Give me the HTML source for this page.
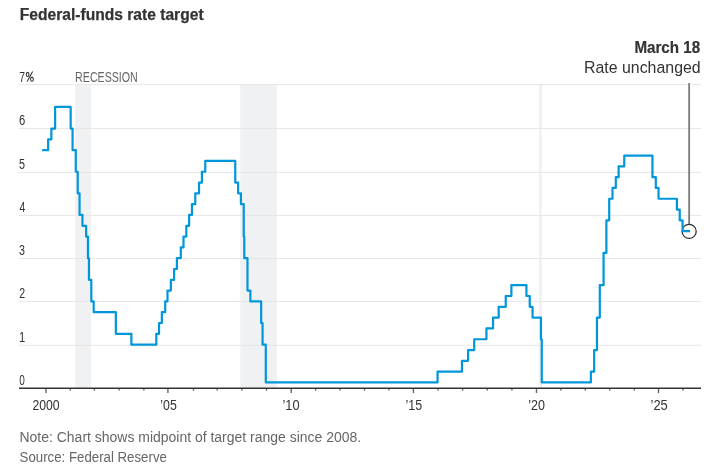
<!DOCTYPE html>
<html><head><meta charset="utf-8"><style>
html,body{margin:0;padding:0;background:#fff;}
svg{display:block;will-change:transform;}
text{font-family:"Liberation Sans",sans-serif;}
.g{stroke:#e6e6e6;stroke-width:1;}
.r{fill:#f0f1f3;}
.tk{stroke:#666;stroke-width:1.4;}
</style></head><body>
<svg width="713" height="467" viewBox="0 0 713 467">
<rect x="75.10" y="84.60" width="15.88" height="303.70" class="r"/><rect x="240.24" y="84.60" width="36.78" height="303.70" class="r"/><rect x="538.88" y="84.60" width="3.02" height="303.70" class="r"/>
<line x1="19" x2="701" y1="84.60" y2="84.60" class="g"/><line x1="19" x2="701" y1="128.60" y2="128.60" class="g"/><line x1="19" x2="701" y1="172.40" y2="172.40" class="g"/><line x1="19" x2="701" y1="215.40" y2="215.40" class="g"/><line x1="19" x2="701" y1="258.40" y2="258.40" class="g"/><line x1="19" x2="701" y1="301.40" y2="301.40" class="g"/><line x1="19" x2="701" y1="345.30" y2="345.30" class="g"/>
<line x1="46.00" x2="46.00" y1="388.3" y2="393" class="tk"/><line x1="70.30" x2="70.30" y1="388.3" y2="390.6" class="tk"/><line x1="94.40" x2="94.40" y1="388.3" y2="390.6" class="tk"/><line x1="119.14" x2="119.14" y1="388.3" y2="390.6" class="tk"/><line x1="143.85" x2="143.85" y1="388.3" y2="390.6" class="tk"/><line x1="167.90" x2="167.90" y1="388.3" y2="393" class="tk"/><line x1="193.45" x2="193.45" y1="388.3" y2="390.6" class="tk"/><line x1="217.22" x2="217.22" y1="388.3" y2="390.6" class="tk"/><line x1="241.88" x2="241.88" y1="388.3" y2="390.6" class="tk"/><line x1="266.54" x2="266.54" y1="388.3" y2="390.6" class="tk"/><line x1="291.20" x2="291.20" y1="388.3" y2="393" class="tk"/><line x1="315.64" x2="315.64" y1="388.3" y2="390.6" class="tk"/><line x1="340.08" x2="340.08" y1="388.3" y2="390.6" class="tk"/><line x1="364.52" x2="364.52" y1="388.3" y2="390.6" class="tk"/><line x1="388.96" x2="388.96" y1="388.3" y2="390.6" class="tk"/><line x1="413.40" x2="413.40" y1="388.3" y2="393" class="tk"/><line x1="438.02" x2="438.02" y1="388.3" y2="390.6" class="tk"/><line x1="462.64" x2="462.64" y1="388.3" y2="390.6" class="tk"/><line x1="487.26" x2="487.26" y1="388.3" y2="390.6" class="tk"/><line x1="511.88" x2="511.88" y1="388.3" y2="390.6" class="tk"/><line x1="536.50" x2="536.50" y1="388.3" y2="393" class="tk"/><line x1="560.90" x2="560.90" y1="388.3" y2="390.6" class="tk"/><line x1="585.30" x2="585.30" y1="388.3" y2="390.6" class="tk"/><line x1="609.70" x2="609.70" y1="388.3" y2="390.6" class="tk"/><line x1="634.30" x2="634.30" y1="388.3" y2="390.6" class="tk"/><line x1="658.50" x2="658.50" y1="388.3" y2="393" class="tk"/><line x1="682.90" x2="682.90" y1="388.3" y2="390.6" class="tk"/>
<line x1="19" x2="701" y1="388.3" y2="388.3" stroke="#333" stroke-width="1.5"/>
<rect x="687.15" y="83" width="4" height="3" fill="#fff"/>
<line x1="689.15" x2="689.15" y1="83" y2="224.18" stroke="#7a7a7a" stroke-width="1.8"/>
<circle cx="689.15" cy="231.38" r="7.05" fill="none" stroke="#333" stroke-width="1.3"/>
<path d="M42.1,150.14H48.15V139.34H51.36V128.53H55.12V106.92H70.67V128.53H72.56V150.14H75.78V171.75H77.73V193.36H79.55V214.97H82.44V225.78H86.14V236.58H87.95V258.19H88.96V279.80H91.31V301.41H93.67V312.22H115.85V333.83H131.39V344.63H156.30V333.83H159.04V323.02H161.86V312.22H165.21V301.41H167.49V290.61H170.85V279.80H174.08V269.00H176.90V258.19H180.80V247.39H183.49V236.58H186.32V225.78H189.14V214.97H191.96V204.17H195.26V193.36H199.02V182.56H201.91V171.75H205.27V160.95H235.26V182.56H238.15V193.36H240.91V204.17H243.73V236.58H244.26V258.19H247.48V290.61H250.37V301.41H261.16V323.02H262.57V344.63H265.79V382.45H437.56V371.64H461.97V360.84H468.09V350.03H474.21V339.23H486.44V328.42H493.03V317.62H498.68V306.81H505.74V296.01H511.39V285.20H526.45V296.01H529.74V306.81H532.56V317.62H540.96V339.23H541.76V382.45H590.86V371.64H594.15V350.03H596.97V317.62H599.80V285.20H603.56V252.79H606.39V220.37H609.21V198.76H612.50V187.96H615.80V177.15H618.62V166.35H624.27V155.54H652.46V177.15H655.81V187.96H658.56V198.76H676.91V209.57H679.74V220.37H682.56V231.18H690.05" fill="none" stroke="#0096db" stroke-width="2.2" stroke-linejoin="round" stroke-linecap="butt"/>
<text x="19.80" y="19.60" font-size="16" font-weight="bold" fill="#333" textLength="183.80" lengthAdjust="spacingAndGlyphs" stroke="#333" stroke-width="0.25">Federal-funds rate target</text>
<text x="634.40" y="52.80" font-size="16" font-weight="bold" fill="#333" textLength="65.69" lengthAdjust="spacingAndGlyphs" stroke="#333" stroke-width="0.2">March 18</text>
<text x="583.98" y="72.60" font-size="16" font-weight="normal" fill="#333" textLength="116.69" lengthAdjust="spacingAndGlyphs">Rate unchanged</text>
<text x="75.10" y="81.60" font-size="14" font-weight="normal" fill="#666" textLength="62.71" lengthAdjust="spacingAndGlyphs">RECESSION</text>
<text x="19.50" y="441.90" font-size="14" font-weight="normal" fill="#666" textLength="341.61" lengthAdjust="spacingAndGlyphs">Note: Chart shows midpoint of target range since 2008.</text>
<text x="19.60" y="462.00" font-size="14" font-weight="normal" fill="#666" textLength="147.30" lengthAdjust="spacingAndGlyphs">Source: Federal Reserve</text>
<text x="19.13" y="81.70" font-size="14" font-weight="normal" fill="#333" textLength="5.77" lengthAdjust="spacingAndGlyphs">7</text>
<text x="19.30" y="384.80" font-size="14" font-weight="normal" fill="#333" textLength="5.58" lengthAdjust="spacingAndGlyphs">0</text>
<text x="19.01" y="341.80" font-size="14" font-weight="normal" fill="#333" textLength="6.21" lengthAdjust="spacingAndGlyphs">1</text>
<text x="19.32" y="297.90" font-size="14" font-weight="normal" fill="#333" textLength="5.88" lengthAdjust="spacingAndGlyphs">2</text>
<text x="19.03" y="254.90" font-size="14" font-weight="normal" fill="#333" textLength="5.95" lengthAdjust="spacingAndGlyphs">3</text>
<text x="19.43" y="211.90" font-size="14" font-weight="normal" fill="#333" textLength="5.82" lengthAdjust="spacingAndGlyphs">4</text>
<text x="18.91" y="168.90" font-size="14" font-weight="normal" fill="#333" textLength="6.00" lengthAdjust="spacingAndGlyphs">5</text>
<text x="19.00" y="125.10" font-size="14" font-weight="normal" fill="#333" textLength="6.26" lengthAdjust="spacingAndGlyphs">6</text>
<text x="32.40" y="410.00" font-size="14" font-weight="normal" fill="#333" textLength="27.27" lengthAdjust="spacingAndGlyphs">2000</text>
<text x="160.30" y="410.00" font-size="14" font-weight="normal" fill="#333" textLength="16.51" lengthAdjust="spacingAndGlyphs">’05</text>
<text x="282.53" y="410.00" font-size="14" font-weight="normal" fill="#333" textLength="17.12" lengthAdjust="spacingAndGlyphs">’10</text>
<text x="405.56" y="410.00" font-size="14" font-weight="normal" fill="#333" textLength="16.66" lengthAdjust="spacingAndGlyphs">’15</text>
<text x="528.31" y="410.00" font-size="14" font-weight="normal" fill="#333" textLength="16.73" lengthAdjust="spacingAndGlyphs">’20</text>
<text x="650.55" y="410.00" font-size="14" font-weight="normal" fill="#333" textLength="17.27" lengthAdjust="spacingAndGlyphs">’25</text>

<g fill="none" stroke="#333" stroke-width="1.05"><ellipse cx="27.65" cy="74.4" rx="1.35" ry="2.05"/><ellipse cx="31.95" cy="79.2" rx="1.35" ry="2.05"/><line x1="32.6" y1="71.6" x2="27.2" y2="81.5"/></g>
</svg>
</body></html>
